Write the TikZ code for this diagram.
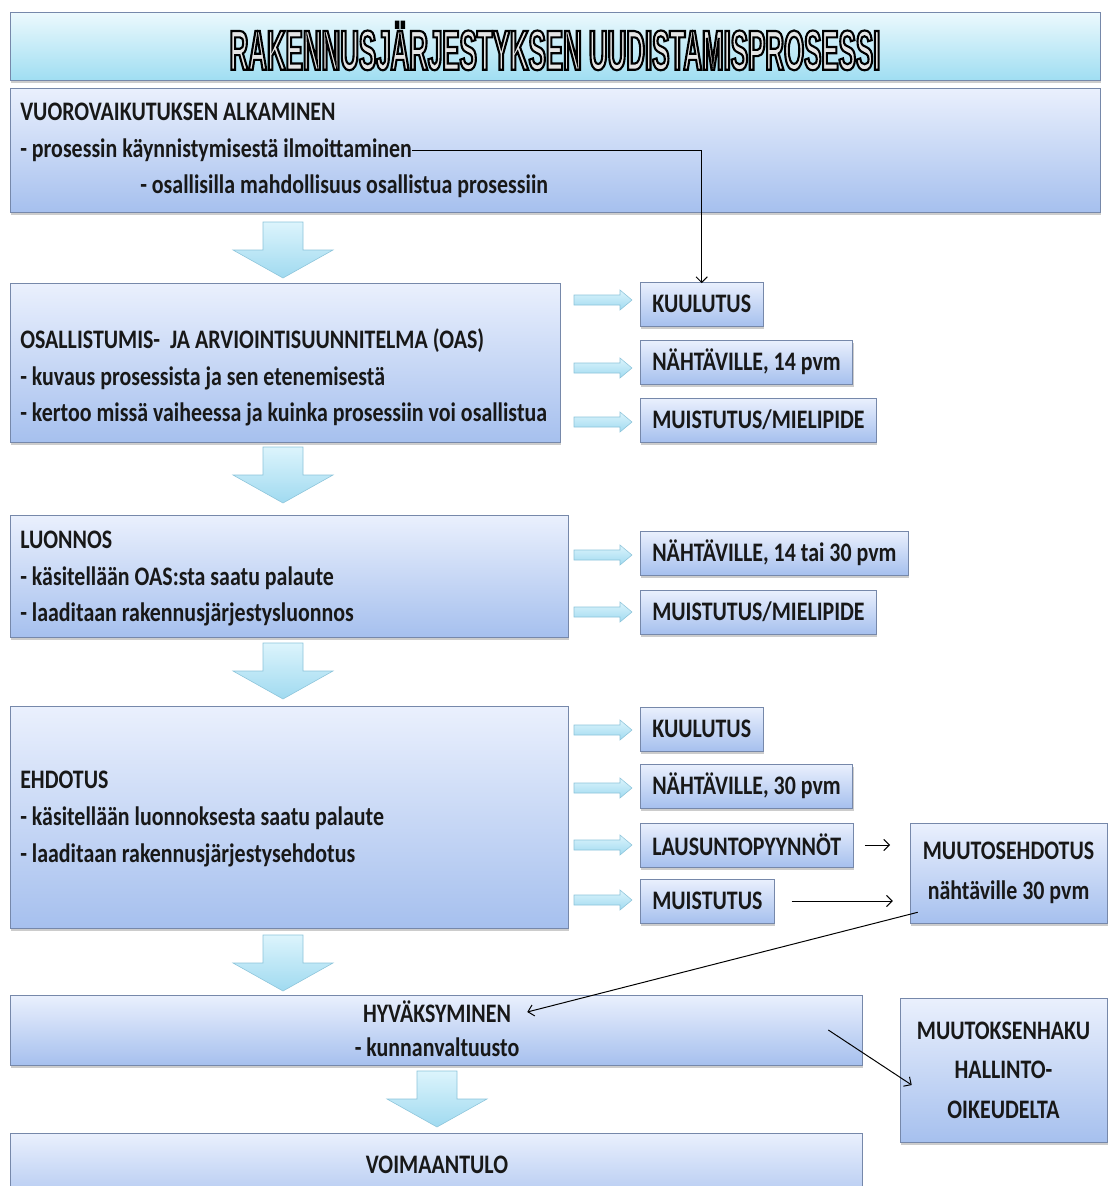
\documentclass[tikz,border=0pt]{standalone}
\usepackage{fontspec}
\setmainfont{Carlito}[FakeStretch=0.82]
\newfontfamily\titlefont{Liberation Sans}[FakeStretch=0.46]
\usetikzlibrary{arrows.meta,shadows,fit,calc,positioning}
\definecolor{boxtop}{RGB}{234,240,253}
\definecolor{boxbot}{RGB}{166,192,238}
\definecolor{boxline}{RGB}{118,136,170}
\definecolor{titletop}{RGB}{236,249,253}
\definecolor{titlebot}{RGB}{160,222,242}
\definecolor{arrtop}{RGB}{220,244,252}
\definecolor{arrbot}{RGB}{160,218,240}
\definecolor{arrline}{RGB}{140,196,218}
\definecolor{textc}{RGB}{24,24,24}
% ontto otsikkoteksti
\newcommand{\outlined}[1]{\special{pdf:literal direct 2 Tr 1.5 w 0 G 0.9 g}#1\special{pdf:literal direct 0 Tr 0 g}}

\begin{document}
\begin{tikzpicture}[x=0.025cm,y=-0.025cm,
  mainbox/.style={draw=boxline,top color=boxtop,bottom color=boxbot,inner sep=0pt,
                  drop shadow={opacity=0.4,shadow xshift=0.6pt,shadow yshift=-2pt}},
  titlebox/.style={mainbox,top color=titletop,bottom color=titlebot},
  txt/.style={anchor=west,inner sep=0pt,text=textc,font=\bfseries\fontsize{19}{28}\selectfont},
  txtc/.style={txt,anchor=center,align=center},
  sidebox/.style={mainbox,anchor=west,minimum height=1.1cm,inner xsep=0.3cm,
                  text=textc,font=\bfseries\fontsize{19}{23}\selectfont},
  conn/.style={draw=black,line width=0.7pt,-{Straight Barb[length=4pt,width=8pt]}},
  bigarr/.style={draw=arrline,top color=arrtop,bottom color=arrbot},
  downarr/.pic={\path[bigarr] (-20,0) -- (20,0) -- (20,28) -- (50,28) -- (0,56)
                  -- (-50,28) -- (-20,28) -- cycle;},
  rightarr/.pic={\path[bigarr] (0,-5) -- (46,-5) -- (46,-10) -- (58,0) -- (46,10)
                  -- (46,5) -- (0,5) -- cycle;}]

\useasboundingbox (0,0) rectangle (1110,1186);

% otsikko
\node[titlebox, fit={(10,12) (1100,80)}] (title) {};
\node[font=\titlefont\bfseries\fontsize{40}{40}\selectfont] (titletxt) at (title.center)
  {\outlined{RAKENNUSJÄRJESTYKSEN UUDISTAMISPROSESSI}};

% vaiheet
\node[mainbox, fit={(10,88) (1100,212)}] (vuoro) {};
\node[txt] (vuo1) at (20,112) {VUOROVAIKUTUKSEN ALKAMINEN};
\node[txt] (vuo2) at (20,150) {- prosessin käynnistymisestä ilmoittaminen};
\node[txt] (vuo3) at (140,186) {- osallisilla mahdollisuus osallistua prosessiin};

\node[mainbox, fit={(10,283) (560,442)}] (oas) {};
\node[txt] (oas1) at (20,341) {OSALLISTUMIS-\ \ JA ARVIOINTISUUNNITELMA (OAS)};
\node[txt] (oas2) at (20,378) {- kuvaus prosessista ja sen etenemisestä};
\node[txt] (oas3) at (20,414) {- kertoo missä vaiheessa ja kuinka prosessiin voi osallistua};

\node[mainbox, fit={(10,515) (568,637)}] (luonnos) {};
\node[txt] (luo1) at (20,540) {LUONNOS};
\node[txt] (luo2) at (20,578) {- käsitellään OAS:sta saatu palaute};
\node[txt] (luo3) at (20,614) {- laaditaan rakennusjärjestysluonnos};

\node[mainbox, fit={(10,706) (568,928)}] (ehdotus) {};
\node[txt] (ehd1) at (20,780) {EHDOTUS};
\node[txt] (ehd2) at (20,818) {- käsitellään luonnoksesta saatu palaute};
\node[txt] (ehd3) at (20,855) {- laaditaan rakennusjärjestysehdotus};

\node[mainbox, fit={(10,995) (862,1065)}] (hyv) {};
\node[txtc] (hyv1) at (437,1012) {HYVÄKSYMINEN};
\node[txtc] (hyv2) at (437,1047) {- kunnanvaltuusto};

\node[mainbox, fit={(10,1133) (862,1215)}] (voim) {};
\node[txtc] (voim1) at (437,1165) {VOIMAANTULO};

% isot nuolet
\foreach \ya in {222,447,643,935}
  \pic at (283,\ya) {downarr};
\pic at (437,1071) {downarr};

% sivulaatikot
\node[sidebox] (kuul1) at (640,304) {KUULUTUS};
\node[sidebox] (nak1)  at (640,362) {NÄHTÄVILLE, 14 pvm};
\node[sidebox] (muis1) at (640,420) {MUISTUTUS/MIELIPIDE};
\node[sidebox] (nak2)  at (640,553) {NÄHTÄVILLE, 14 tai 30 pvm};
\node[sidebox] (muis2) at (640,612) {MUISTUTUS/MIELIPIDE};
\node[sidebox] (kuul3) at (640,729) {KUULUTUS};
\node[sidebox] (nak3)  at (640,786) {NÄHTÄVILLE, 30 pvm};
\node[sidebox] (laus3) at (640,845) {LAUSUNTOPYYNNÖT};
\node[sidebox] (muis3) at (640,901) {MUISTUTUS};
\foreach \ys in {300,368,422,555,612,730,788,845,900}
  \pic at (574,\ys) {rightarr};

\node[mainbox, fit={(910,823) (1107,923)}] (muutos) {};
\node[txtc] (muu1) at (muutos.center) {MUUTOSEHDOTUS\\nähtäville 30 pvm};

\node[mainbox, fit={(900,998) (1107,1142)}] (haku) {};
\node[txtc] (haku1) at (haku.center) {MUUTOKSENHAKU\\HALLINTO-\\OIKEUDELTA};

% yhteydet
\coordinate (muuout) at ($(muutos.south west)+(8,-11)$);
\coordinate (hyvin)  at ($(hyv1.east)+(16,0)$);
\coordinate (hyvout) at ($(hyv.east)+(-34,0)$);
\coordinate (hakuin) at ($(haku.west)+(12,15)$);

\draw[conn] (vuo2.east) -| ([yshift=-1pt]kuul1.north);
\draw[conn, shorten <=8pt, shorten >=14pt] (laus3.east) -- (laus3.east -| muutos.west);
\draw[conn, shorten <=12pt, shorten >=12pt] (muis3.east) -- (muis3.east -| muutos.west);
\draw[conn] (muuout) -- (hyvin);
\draw[conn] (hyvout) -- (hakuin);
\end{tikzpicture}
\end{document}
